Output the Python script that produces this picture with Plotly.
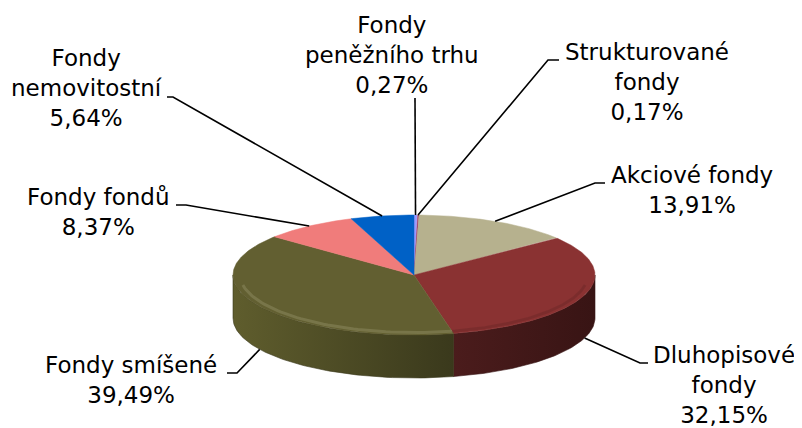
import numpy as np
import plotly.graph_objects as go

# ---- data ----
categories = ["Fondy peněžního trhu", "Strukturované fondy", "Akciové fondy",
              "Dluhopisové fondy", "Fondy smíšené", "Fondy fondů", "Fondy nemovitostní"]
label_lines = ["Fondy<br>peněžního trhu", "Strukturované<br>fondy", "Akciové fondy",
               "Dluhopisové<br>fondy", "Fondy smíšené", "Fondy fondů", "Fondy<br>nemovitostní"]
shares = [0.27, 0.17, 13.91, 32.15, 39.49, 8.37, 5.64]

# ---- style ----
top_colors = ["#9999FF", "#993366", "#B6B18E", "#8A3232", "#625F31", "#F07C7B", "#0061C6"]
side_colors = [("#6b6bb3", "#5a5a99"), ("#6b2447", "#5a1e3c"), ("#7f7c63", "#6b684f"),
               ("#4b1c1c", "#381414"), ("#5f5d2d", "#3a391c"), ("#a85656", "#8f4848"),
               ("#00448a", "#003a75")]
rim_colors = [None, None, None, "rgba(0,0,0,0.10)", "rgba(255,255,220,0.14)", None, None]
CX, CY, RX, RY, DEPTH = 414, 275, 181, 60, 43
W, H = 802, 428
OFF = 8  # page body margin
FONT = "DejaVu Sans, Verdana, sans-serif"

# label block centres and leader-line label-side points (layout)
label_pos = [(392, 55), (647, 82), (692, 190), (724, 385), (131, 380), (98, 212), (86, 88)]
leader_pts = [[(415, 98)], [(559, 60), (548, 60)], [(605, 183), (595, 183)],
              [(648, 363), (640, 363)], [(227, 373), (237, 373)],
              [(176, 205), (186, 205)], [(167, 97), (173, 97)]]


def ell(theta_deg, dy=0.0, k=1.0):
    t = np.radians(theta_deg)
    return CX + k * RX * np.sin(t), CY - k * RY * np.cos(t) + dy


fig = go.Figure()
total = sum(shares)
cum = np.concatenate([[0], np.cumsum(shares)]) / total * 360.0

# side faces (visible front half: 90..270 deg)
for i in range(len(shares)):
    a, b = max(cum[i], 90), min(cum[i + 1], 270)
    if b <= a:
        continue
    th = np.linspace(a, b, 80)
    xt, yt = ell(th)
    xb, yb = ell(th[::-1], DEPTH)
    xs = np.concatenate([xt, xb, xt[:1]])
    ys = np.concatenate([yt, yb, yt[:1]])
    fig.add_trace(go.Scatter(
        x=xs, y=ys, mode="lines", fill="toself",
        line=dict(width=0.6, color=side_colors[i][1]),
        fillgradient=dict(type="horizontal",
                          colorscale=[[0, side_colors[i][0]], [1, side_colors[i][1]]]),
        hoverinfo="skip", showlegend=False))

# top faces
for i in range(len(shares)):
    th = np.linspace(cum[i], cum[i + 1], max(4, int((cum[i + 1] - cum[i]) * 2)))
    xt, yt = ell(th)
    xs = np.concatenate([[CX], xt, [CX]])
    ys = np.concatenate([[CY], yt, [CY]])
    fig.add_trace(go.Scatter(
        x=xs, y=ys, mode="lines", fill="toself", fillcolor=top_colors[i],
        line=dict(width=0.5, color=top_colors[i]),
        hoverinfo="skip", showlegend=False, name=categories[i]))

# subtle bevel on the front rim
for i in range(len(shares)):
    a, b = max(cum[i], 100), min(cum[i + 1], 260)
    if b <= a or rim_colors[i] is None:
        continue
    th = np.linspace(a, b, 60)
    xh, yh = ell(th, k=0.96)
    fig.add_trace(go.Scatter(x=xh, y=yh, mode="lines",
                             line=dict(width=3, color=rim_colors[i]),
                             hoverinfo="skip", showlegend=False))

# leader lines + labels
for i in range(len(shares)):
    mid = (cum[i] + cum[i + 1]) / 2
    front = np.cos(np.radians(mid)) < 0
    ax_, ay_ = ell(mid, DEPTH if front else 0)
    pts = leader_pts[i] + [(ax_, ay_)]
    fig.add_trace(go.Scatter(x=[p[0] for p in pts], y=[p[1] for p in pts], mode="lines",
                             line=dict(width=1.6, color="#000000"),
                             hoverinfo="skip", showlegend=False))
    pct = f"{shares[i]:.2f}".replace(".", ",") + "%"
    fig.add_annotation(x=label_pos[i][0], y=label_pos[i][1], xref="x", yref="y",
                       text=f"{label_lines[i]}<br>{pct}", showarrow=False,
                       xanchor="center", yanchor="middle", align="center",
                       font=dict(family=FONT, size=23, color="#000000"))

fig.update_layout(
    width=W, height=H, margin=dict(l=0, r=0, t=0, b=0),
    paper_bgcolor="white", plot_bgcolor="white",
    xaxis=dict(range=[OFF, W + OFF], visible=False, fixedrange=True),
    yaxis=dict(range=[H + OFF, OFF], visible=False, fixedrange=True),
    showlegend=False,
)
fig.write_html("out.html")
